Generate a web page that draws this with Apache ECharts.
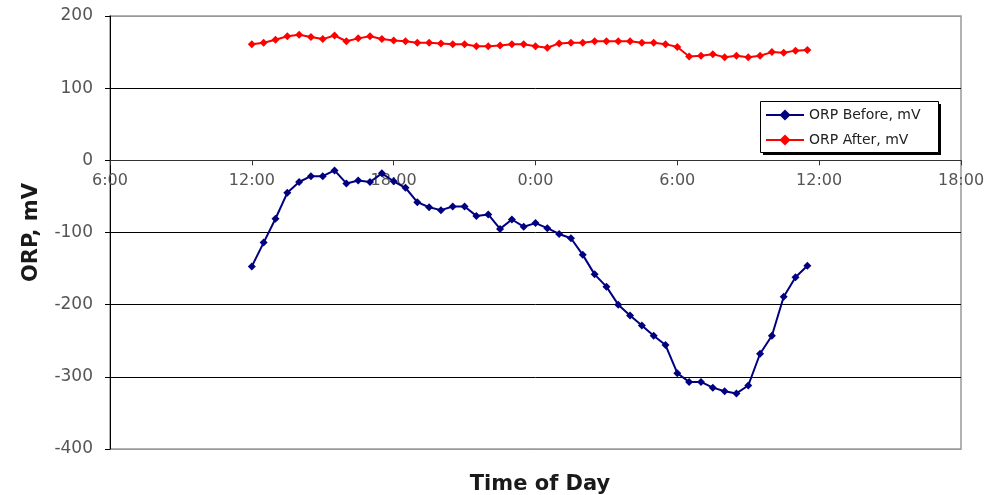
<!DOCTYPE html>
<html>
<head>
<meta charset="utf-8">
<script src="https://cdn.jsdelivr.net/npm/echarts@6/dist/echarts.min.js"></script>
<style>
html,body{margin:0;padding:0;background:#fff;}
#chart{width:988px;height:495px;}
</style>
</head>
<body>
<div id="chart"></div>
<script>
// Sample times (every 30 min, from noon to 11:30 next morning)
var times = ['12:00','12:30','13:00','13:30','14:00','14:30','15:00','15:30','16:00','16:30','17:00','17:30',
             '18:00','18:30','19:00','19:30','20:00','20:30','21:00','21:30','22:00','22:30','23:00','23:30',
             '0:00','0:30','1:00','1:30','2:00','2:30','3:00','3:30','4:00','4:30','5:00','5:30',
             '6:00','6:30','7:00','7:30','8:00','8:30','9:00','9:30','10:00','10:30','11:00','11:30'];
var orpBefore = [-147,-114,-81,-45,-30,-22,-22,-14,-32,-28,-30,-18,
                 -29,-38,-58,-65,-69,-64,-64,-77,-75,-95,-82,-92,
                 -87,-94,-102,-108,-131,-158,-175,-200,-215,-229,-243,-256,
                 -295,-307,-307,-315,-320,-323,-312,-268,-243,-189,-162,-146];
var orpAfter = [161,163,167,172,174,171,168,173,165,169,172,168,
                166,165,163,163,162,161,161,158,158,159,161,161,
                158,156,162,163,163,165,165,165,165,163,163,161,
                157,144,145,147,143,145,143,145,150,149,152,153];
var xTickLabels = ['6:00','12:00','18:00','0:00','6:00','12:00','18:00'];
var seriesNames = ['ORP Before, mV','ORP After, mV'];
var yMin = -400, yMax = 200;

// convert clock strings to continuous hours (day rollover after midnight)
function toHours(list){
  var out = [], offset = 0, prev = -1;
  list.forEach(function(s){
    var p = s.split(':'); var h = +p[0] + (+p[1])/60;
    if (h + offset < prev) offset += 24;
    prev = h + offset; out.push(prev);
  });
  return out;
}
var hrs = toHours(times);
function pair(vals){ return vals.map(function(v,i){ return [hrs[i], v]; }); }

var W = 988, H = 495, gTop = 16, gBottom = 46;
var gridH = H - gTop - gBottom;
// x axis sits on the y=0 line: shift it up from the grid bottom
var zeroOffset = -((0 - yMin) / (yMax - yMin)) * gridH;

var chart = echarts.init(document.getElementById('chart'));
var font = 'DejaVu Sans';
chart.setOption({
  animation: false,
  textStyle: {fontFamily: font},
  grid: {left: 110, right: 27, top: gTop, bottom: gBottom, show: true, borderColor: '#999', borderWidth: 1.5, backgroundColor: '#fff'},
  title: {text: 'Time of Day', left: 535, top: 469, textAlign: 'center',
          textStyle: {fontFamily: font, fontSize: 21, fontWeight: 'bold', color: '#1a1a1a'}},
  graphic: [
    {type: 'rect', z: 5, shape: {x: 763, y: 104, width: 178, height: 51}, style: {fill: '#000'}},
    {type: 'rect', z: 5, shape: {x: 760.5, y: 101.5, width: 178, height: 51}, style: {fill: '#fff', stroke: '#000', lineWidth: 1}}
  ],
  legend: {
    orient: 'vertical', left: 760, top: 101, z: 6,
    padding: [7, 14, 6, 5], itemGap: 11, itemWidth: 38, itemHeight: 14,
    textStyle: {fontFamily: font, fontSize: 14, color: '#222'},
    data: seriesNames
  },
  xAxis: {
    type: 'value', min: 6, max: 42, interval: 6, position: 'bottom', offset: zeroOffset,
    axisLine: {onZero: false, lineStyle: {color: '#333', width: 1}},
    axisTick: {show: true, length: 5, lineStyle: {color: '#333'}},
    axisLabel: {fontSize: 16, color: '#555', margin: 13, fontFamily: font,
                formatter: function(v){ return xTickLabels[Math.round((v-6)/6)]; }},
    splitLine: {show: false}
  },
  yAxis: {
    type: 'value', min: yMin, max: yMax, interval: 100,
    name: 'ORP, mV', nameLocation: 'middle', nameGap: 68,
    nameTextStyle: {fontFamily: font, fontSize: 21, fontWeight: 'bold', color: '#1a1a1a'},
    axisLine: {show: true, onZero: false, lineStyle: {color: '#000', width: 1}},
    axisTick: {show: true, length: 5, lineStyle: {color: '#000'}},
    axisLabel: {fontSize: 17, color: '#555', margin: 17, fontFamily: font},
    splitLine: {show: true, lineStyle: {color: ['#999','#000','#000','#000','#000','#000','#999'], width: 1}}
  },
  series: [
    {name: seriesNames[0], type: 'line', data: pair(orpBefore), symbol: 'diamond', symbolSize: 8,
     lineStyle: {color: '#000080', width: 2}, itemStyle: {color: '#000080'}, z: 3},
    {name: seriesNames[1], type: 'line', data: pair(orpAfter), symbol: 'diamond', symbolSize: 8,
     lineStyle: {color: '#ff0000', width: 2}, itemStyle: {color: '#ff0000'}, z: 3}
  ]
});
</script>
</body>
</html>
